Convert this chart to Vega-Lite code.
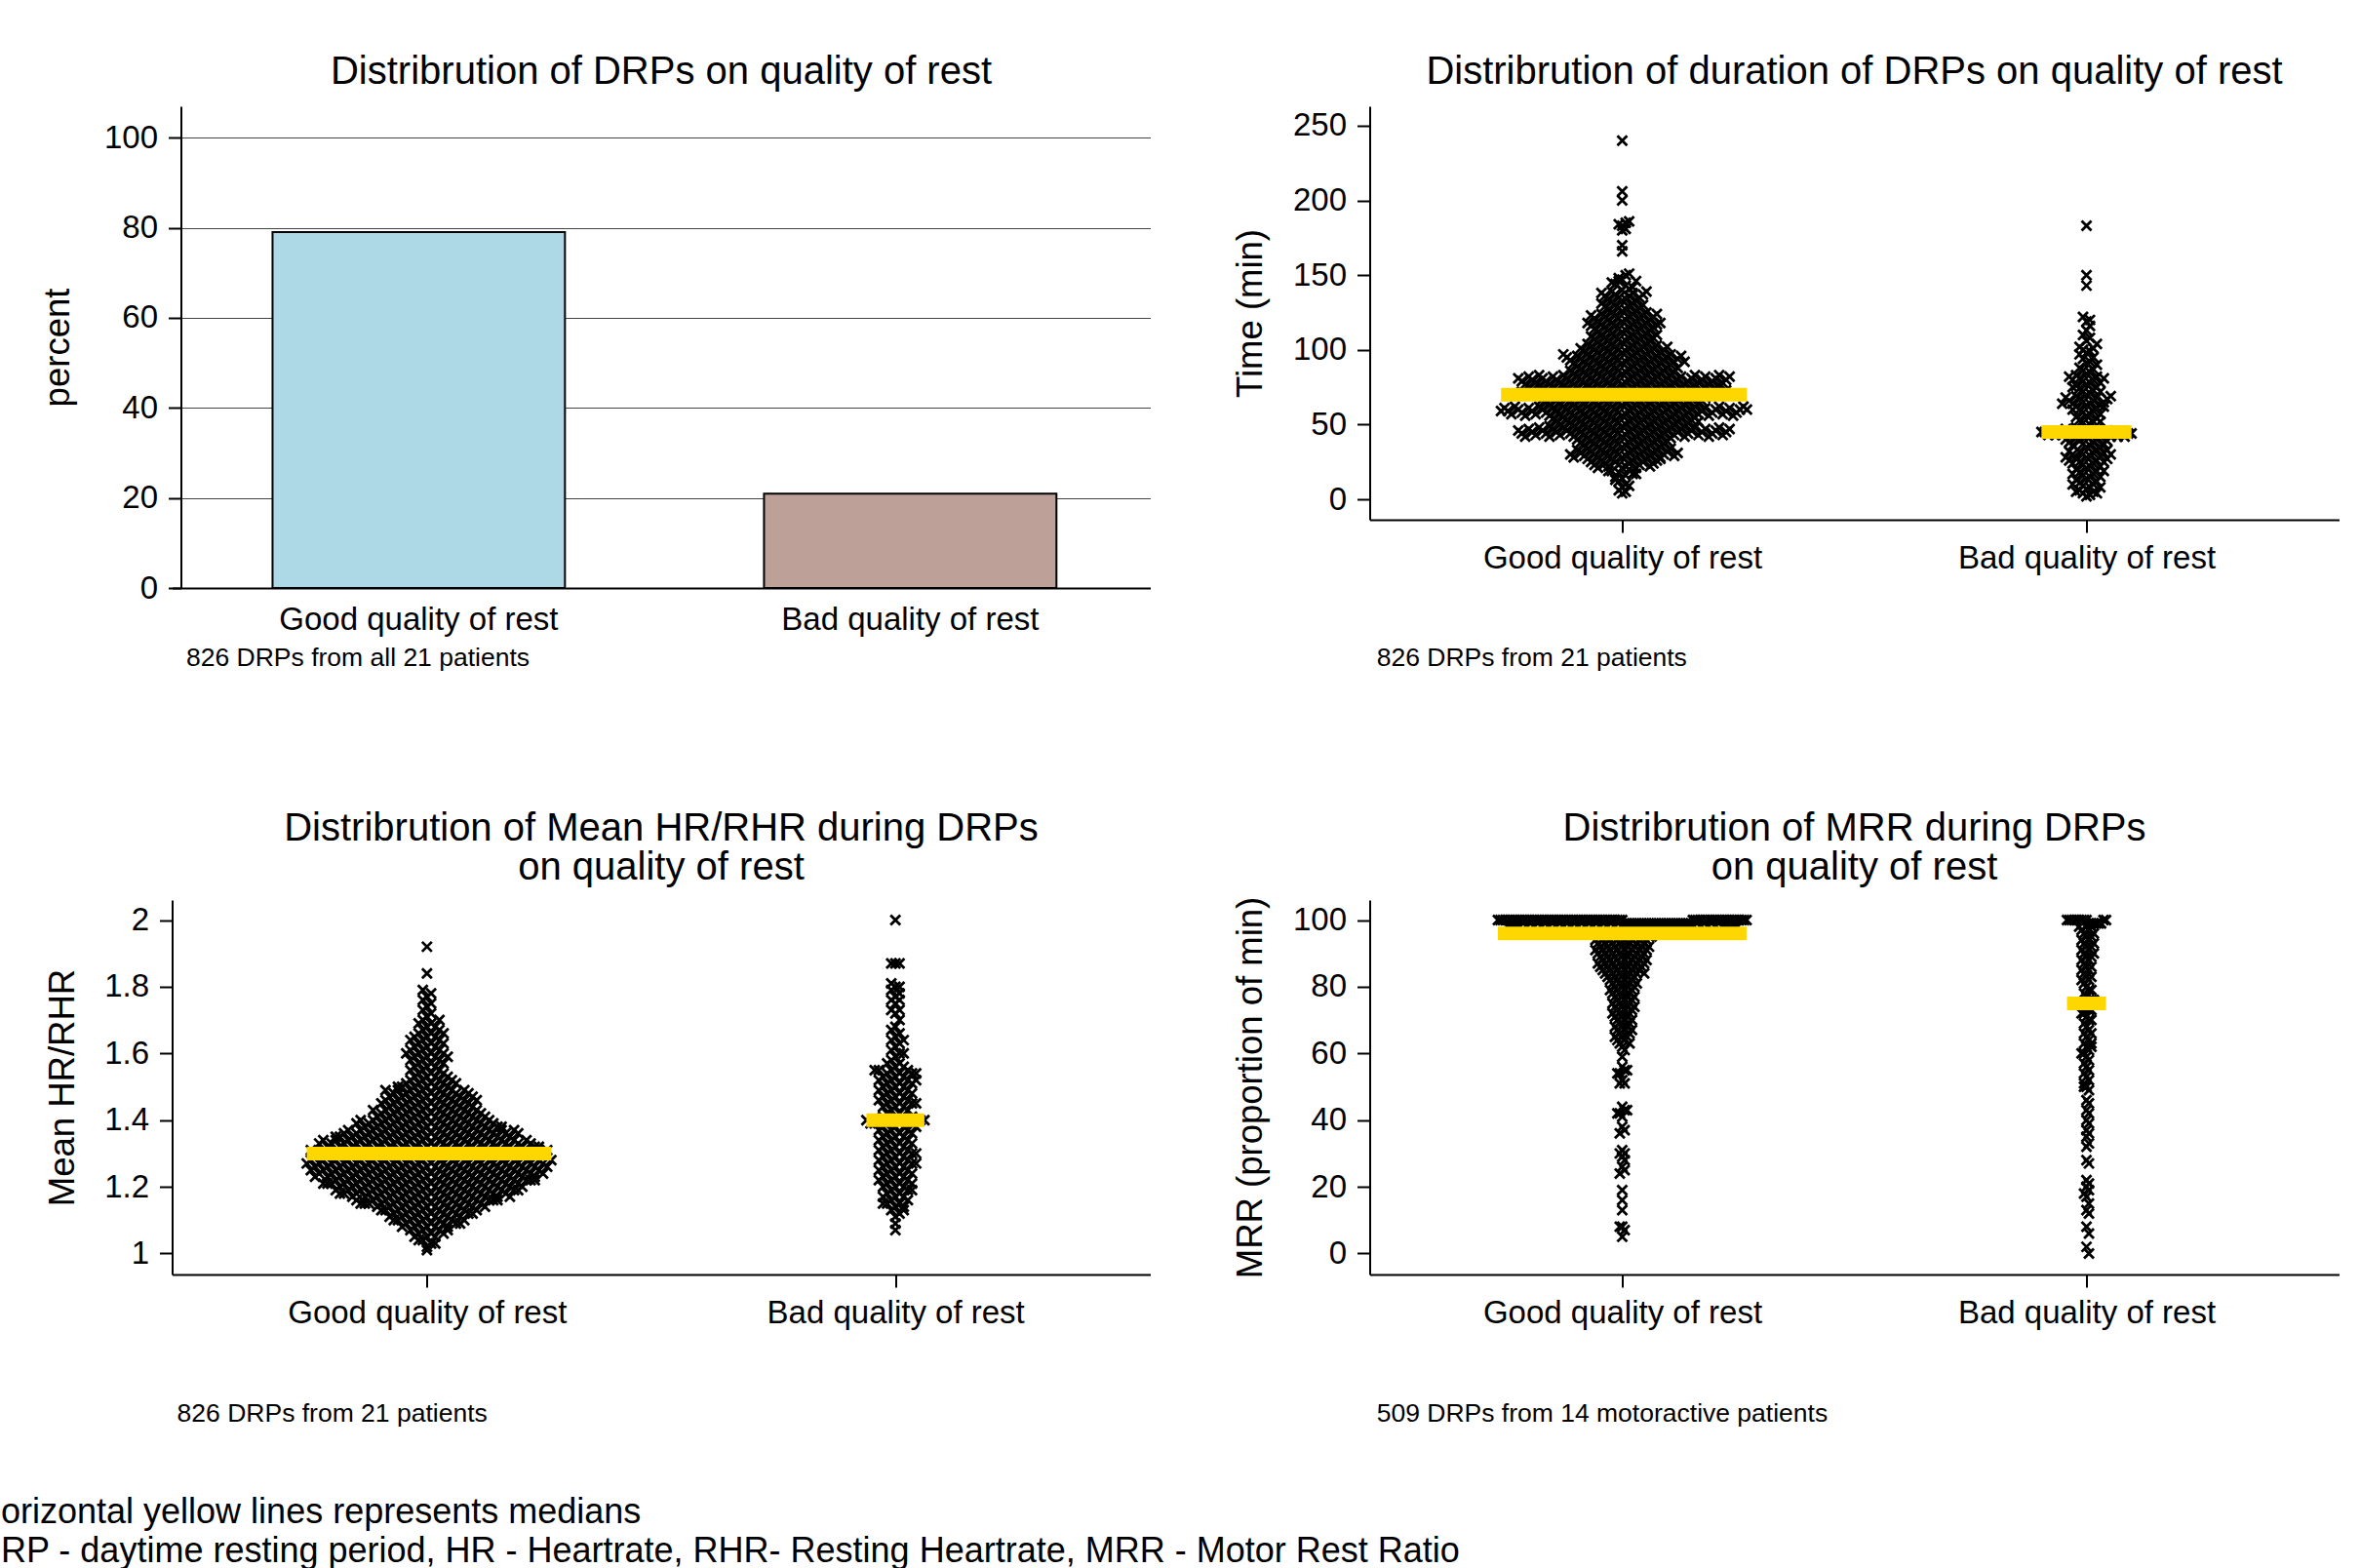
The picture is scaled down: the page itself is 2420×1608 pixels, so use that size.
{
"$schema":"https://vega.github.io/schema/vega-lite/v6.json",
"padding":{"left":0.5,"top":54,"right":22,"bottom":0},
"background":"white",
"config":{
"view":{"stroke":null},
"font":"Liberation Sans",
"axis":{"labelFont":"Liberation Sans","labelFontSize":33,"labelColor":"#000","labelLimit":0,"labelFlush":false,"labelOverlap":false,"titleFont":"Liberation Sans","titleFontSize":36.5,"titleFontWeight":"normal","titleColor":"#000","titleLimit":2000,"domainColor":"#000","domainWidth":2,"tickColor":"#000","tickWidth":2,"tickSize":13,"labelPadding":11,"grid":false},
"title":{"font":"Liberation Sans","fontSize":40,"fontWeight":"normal","color":"#000","baseline":"bottom","frame":"group","anchor":"middle","lineHeight":40}
},
"title":{"text":["orizontal yellow lines represents medians","RP - daytime resting period, HR - Heartrate, RHR- Resting Heartrate, MRR - Motor Rest Ratio"],"orient":"bottom","anchor":"start","frame":"group","align":"left","baseline":"alphabetic","fontSize":36,"lineHeight":40.3,"dx":-175.5,"offset":99.2,"fontWeight":"normal","color":"#000"},
"columns":2,
"bounds":"flush",
"spacing":{"row":320,"column":225},
"concat":[
{
"width":1003,"height":494,
"title":{"text":"Distribrution of DRPs on quality of rest","offset":14.6},
"data":{"values":[{"q":"Good quality of rest","p":79.06},{"q":"Bad quality of rest","p":20.94}]},
"mark":{"type":"bar","stroke":"#000","strokeWidth":2},
"encoding":{
"x":{"field":"q","type":"nominal","sort":["Good quality of rest","Bad quality of rest"],"scale":{"paddingInner":0.405,"paddingOuter":0.1976,"align":0.517},
"axis":{"title":"826 DRPs from all 21 patients","titleX":14,"titleY":79,"titleAlign":"left","titleBaseline":"alphabetic","titleAngle":0,"titleFontSize":26.5,"ticks":false,"tickSize":0,"labelAngle":0,"labelPadding":42,"labelBaseline":"alphabetic"}},
"y":{"field":"p","type":"quantitative","scale":{"domain":[0,107],"nice":false,"zero":false},
"axis":{"title":"percent","values":[0,20,40,60,80,100],"grid":true,"gridColor":"#444","gridWidth":1.2,"offset":-9,"titleX":-115,"titleY":247,"titleAngle":-90,"titleAlign":"center","titleBaseline":"alphabetic"}},
"fill":{"field":"q","type":"nominal","scale":{"domain":["Good quality of rest","Bad quality of rest"],"range":["#ADD8E6","#BDA098"]},"legend":null}
}
},
{
"width":994,"height":424,
"title":{"text":"Distribrution of duration of DRPs on quality of rest","offset":14.6},
"encoding":{
"x":{"field":"xp","type":"quantitative","scale":{"domain":[0.456,2.544],"nice":false,"zero":false},
"axis":{"values":[1,2],"labelExpr":"datum.value == 1 ? 'Good quality of rest' : 'Bad quality of rest'","labelPadding":36,"labelBaseline":"alphabetic","labelAlign":"center","title":"826 DRPs from 21 patients","titleX":6.7,"titleY":149,"titleAlign":"left","titleBaseline":"alphabetic","titleAngle":0,"titleFontSize":26.5}},
"y":{"field":"v","type":"quantitative","scale":{"domain":[-13.7,263],"nice":false,"zero":false},
"axis":{"title":"Time (min)","values":[0,50,100,150,200,250],"titleX":-111,"titleY":212,"titleAngle":-90,"titleAlign":"center","titleBaseline":"alphabetic"}}
},
"layer":[
{"data":{"name":"durGood"},"transform":[{"calculate":"floor(datum.v / 7)","as":"b"},{"window":[{"op":"row_number","as":"rk"}],"groupby":["b"]},{"calculate":"1 + (datum.rk % 2 == 0 ? 1 : -1) * floor(datum.rk / 2) * 0.00746","as":"xp"}],
"mark":{"type":"point","shape":"M-1,-1L1,1M-1,1L1,-1","filled":false,"color":"#000","strokeWidth":2.8,"size":100,"opacity":1}},
{"data":{"name":"durBad"},"transform":[{"calculate":"floor(datum.v / 7)","as":"b"},{"window":[{"op":"row_number","as":"rk"}],"groupby":["b"]},{"calculate":"2 + (datum.rk % 2 == 0 ? 1 : -1) * floor(datum.rk / 2) * 0.00746","as":"xp"}],
"mark":{"type":"point","shape":"M-1,-1L1,1M-1,1L1,-1","filled":false,"color":"#000","strokeWidth":2.8,"size":100,"opacity":1}},
{"data":{"name":"durGood"},"transform":[{"calculate":"floor(datum.v / 7)","as":"b"},{"window":[{"op":"row_number","as":"rk"}],"groupby":["b"]},{"calculate":"1 + (datum.rk % 2 == 0 ? 1 : -1) * floor(datum.rk / 2) * 0.00746","as":"xp"},{"aggregate":[{"op":"median","field":"v","as":"v"},{"op":"min","field":"xp","as":"xp"},{"op":"max","field":"xp","as":"xp2"}]}],
"mark":{"type":"rule","color":"#FFD700","strokeWidth":14,"strokeCap":"butt"},"encoding":{"x2":{"field":"xp2"}}},
{"data":{"name":"durBad"},"transform":[{"calculate":"floor(datum.v / 7)","as":"b"},{"window":[{"op":"row_number","as":"rk"}],"groupby":["b"]},{"calculate":"2 + (datum.rk % 2 == 0 ? 1 : -1) * floor(datum.rk / 2) * 0.00746","as":"xp"},{"aggregate":[{"op":"median","field":"v","as":"v"},{"op":"min","field":"xp","as":"xp"},{"op":"max","field":"xp","as":"xp2"}]}],
"mark":{"type":"rule","color":"#FFD700","strokeWidth":14,"strokeCap":"butt"},"encoding":{"x2":{"field":"xp2"}}}
]
},
{
"width":1003,"height":384,
"title":{"text":["Distribrution of Mean HR/RHR during DRPs","on quality of rest"],"offset":12.6},
"encoding":{
"x":{"field":"xp","type":"quantitative","scale":{"domain":[0.456,2.544],"nice":false,"zero":false},
"axis":{"values":[1,2],"labelExpr":"datum.value == 1 ? 'Good quality of rest' : 'Bad quality of rest'","labelPadding":36,"labelBaseline":"alphabetic","labelAlign":"center","title":"826 DRPs from 21 patients","titleX":4.6,"titleY":150,"titleAlign":"left","titleBaseline":"alphabetic","titleAngle":0,"titleFontSize":26.5}},
"y":{"field":"v","type":"quantitative","scale":{"domain":[0.937,2.06],"nice":false,"zero":false},
"axis":{"title":"Mean HR/RHR","values":[1,1.2,1.4,1.6,1.8,2],"format":".1~f","titleX":-101,"titleY":192,"titleAngle":-90,"titleAlign":"center","titleBaseline":"alphabetic"}}
},
"layer":[
{"data":{"name":"hrGood"},"transform":[{"calculate":"floor(round(datum.v * 100) / 3)","as":"b"},{"window":[{"op":"row_number","as":"rk"}],"groupby":["b"]},{"calculate":"1 + (datum.rk % 2 == 0 ? 1 : -1) * floor(datum.rk / 2) * 0.00885","as":"xp"}],
"mark":{"type":"point","shape":"M-1,-1L1,1M-1,1L1,-1","filled":false,"color":"#000","strokeWidth":2.8,"size":100,"opacity":1}},
{"data":{"name":"hrBad"},"transform":[{"calculate":"floor(round(datum.v * 100) / 3)","as":"b"},{"window":[{"op":"row_number","as":"rk"}],"groupby":["b"]},{"calculate":"2 + (datum.rk % 2 == 0 ? 1 : -1) * floor(datum.rk / 2) * 0.00885","as":"xp"}],
"mark":{"type":"point","shape":"M-1,-1L1,1M-1,1L1,-1","filled":false,"color":"#000","strokeWidth":2.8,"size":100,"opacity":1}},
{"data":{"name":"hrGood"},"transform":[{"calculate":"floor(round(datum.v * 100) / 3)","as":"b"},{"window":[{"op":"row_number","as":"rk"}],"groupby":["b"]},{"calculate":"1 + (datum.rk % 2 == 0 ? 1 : -1) * floor(datum.rk / 2) * 0.00885","as":"xp"},{"aggregate":[{"op":"median","field":"v","as":"v"},{"op":"min","field":"xp","as":"xp"},{"op":"max","field":"xp","as":"xp2"}]}],
"mark":{"type":"rule","color":"#FFD700","strokeWidth":14,"strokeCap":"butt"},"encoding":{"x2":{"field":"xp2"}}},
{"data":{"name":"hrBad"},"transform":[{"calculate":"floor(round(datum.v * 100) / 3)","as":"b"},{"window":[{"op":"row_number","as":"rk"}],"groupby":["b"]},{"calculate":"2 + (datum.rk % 2 == 0 ? 1 : -1) * floor(datum.rk / 2) * 0.00885","as":"xp"},{"aggregate":[{"op":"median","field":"v","as":"v"},{"op":"min","field":"xp","as":"xp"},{"op":"max","field":"xp","as":"xp2"}]}],
"mark":{"type":"rule","color":"#FFD700","strokeWidth":14,"strokeCap":"butt"},"encoding":{"x2":{"field":"xp2"}}}
]
},
{
"width":994,"height":384,
"title":{"text":["Distribrution of MRR during DRPs","on quality of rest"],"offset":9.6},
"encoding":{
"x":{"field":"xp","type":"quantitative","scale":{"domain":[0.456,2.544],"nice":false,"zero":false},
"axis":{"values":[1,2],"labelExpr":"datum.value == 1 ? 'Good quality of rest' : 'Bad quality of rest'","labelPadding":36,"labelBaseline":"alphabetic","labelAlign":"center","title":"509 DRPs from 14 motoractive patients","titleX":6.7,"titleY":150,"titleAlign":"left","titleBaseline":"alphabetic","titleAngle":0,"titleFontSize":26.5}},
"y":{"field":"v","type":"quantitative","scale":{"domain":[-6.3,106],"nice":false,"zero":false},
"axis":{"title":"MRR (proportion of min)","values":[0,20,40,60,80,100],"titleX":-111,"titleY":192,"titleAngle":-90,"titleAlign":"center","titleBaseline":"alphabetic"}}
},
"layer":[
{"data":{"name":"mrrGood"},"transform":[{"calculate":"floor(datum.v / 3)","as":"b"},{"window":[{"op":"row_number","as":"rk"}],"groupby":["b"]},{"calculate":"1 + (datum.rk % 2 == 0 ? 1 : -1) * floor(datum.rk / 2) * 0.00525","as":"xp"}],
"mark":{"type":"point","shape":"M-1,-1L1,1M-1,1L1,-1","filled":false,"color":"#000","strokeWidth":2.8,"size":100,"opacity":1}},
{"data":{"name":"mrrBad"},"transform":[{"calculate":"floor(datum.v / 3)","as":"b"},{"window":[{"op":"row_number","as":"rk"}],"groupby":["b"]},{"calculate":"2 + (datum.rk % 2 == 0 ? 1 : -1) * floor(datum.rk / 2) * 0.00525","as":"xp"}],
"mark":{"type":"point","shape":"M-1,-1L1,1M-1,1L1,-1","filled":false,"color":"#000","strokeWidth":2.8,"size":100,"opacity":1}},
{"data":{"name":"mrrGood"},"transform":[{"calculate":"floor(datum.v / 3)","as":"b"},{"window":[{"op":"row_number","as":"rk"}],"groupby":["b"]},{"calculate":"1 + (datum.rk % 2 == 0 ? 1 : -1) * floor(datum.rk / 2) * 0.00525","as":"xp"},{"aggregate":[{"op":"median","field":"v","as":"v"},{"op":"min","field":"xp","as":"xp"},{"op":"max","field":"xp","as":"xp2"}]}],
"mark":{"type":"rule","color":"#FFD700","strokeWidth":14,"strokeCap":"butt"},"encoding":{"x2":{"field":"xp2"}}},
{"data":{"name":"mrrBad"},"transform":[{"calculate":"floor(datum.v / 3)","as":"b"},{"window":[{"op":"row_number","as":"rk"}],"groupby":["b"]},{"calculate":"2 + (datum.rk % 2 == 0 ? 1 : -1) * floor(datum.rk / 2) * 0.00525","as":"xp"},{"aggregate":[{"op":"median","field":"v","as":"v"},{"op":"min","field":"xp","as":"xp"},{"op":"max","field":"xp","as":"xp2"}]}],
"mark":{"type":"rule","color":"#FFD700","strokeWidth":14,"strokeCap":"butt"},"encoding":{"x2":{"field":"xp2"}}}
]
}
],
"datasets":{
"durGood":[{"v":4},{"v":5},{"v":6},{"v":8},{"v":10},{"v":12},{"v":9},{"v":13},{"v":14},{"v":16},{"v":18},{"v":20},{"v":15},{"v":17},{"v":19},{"v":17},{"v":19},
{"v":21},{"v":22},{"v":23},{"v":24},{"v":25},{"v":26},{"v":27},{"v":21},{"v":22},{"v":23},{"v":24},{"v":25},{"v":26},{"v":27},{"v":21},{"v":22},{"v":23},{"v":24},{"v":25},{"v":26},{"v":27},{"v":27},
{"v":28},{"v":29},{"v":30},{"v":31},{"v":32},{"v":33},{"v":34},{"v":28},{"v":29},{"v":30},{"v":31},{"v":32},{"v":33},{"v":34},{"v":28},{"v":29},{"v":30},{"v":31},{"v":32},{"v":33},{"v":34},{"v":28},{"v":29},{"v":30},{"v":31},{"v":32},{"v":33},{"v":34},{"v":28},{"v":29},{"v":30},{"v":31},
{"v":35},{"v":36},{"v":37},{"v":38},{"v":39},{"v":40},{"v":41},{"v":35},{"v":36},{"v":37},{"v":38},{"v":39},{"v":40},{"v":41},{"v":35},{"v":36},{"v":37},{"v":38},{"v":39},{"v":40},{"v":41},{"v":35},{"v":36},{"v":37},{"v":38},{"v":39},{"v":40},{"v":41},
{"v":42},{"v":43},{"v":44},{"v":45},{"v":46},{"v":47},{"v":48},{"v":42},{"v":43},{"v":44},{"v":45},{"v":46},{"v":47},{"v":48},{"v":42},{"v":43},{"v":44},{"v":45},{"v":46},{"v":47},{"v":48},{"v":42},{"v":43},{"v":44},{"v":45},{"v":46},{"v":47},{"v":48},{"v":42},{"v":43},{"v":44},{"v":45},{"v":46},{"v":47},{"v":48},{"v":42},{"v":43},{"v":44},{"v":45},{"v":46},{"v":47},{"v":48},{"v":42},{"v":43},{"v":44},{"v":45},{"v":46},{"v":47},{"v":48},{"v":42},{"v":43},{"v":44},{"v":45},{"v":46},{"v":47},{"v":48},{"v":42},{"v":43},{"v":44},{"v":45},{"v":46},{"v":47},
{"v":49},{"v":50},{"v":51},{"v":52},{"v":53},{"v":54},{"v":55},{"v":49},{"v":50},{"v":51},{"v":52},{"v":53},{"v":54},{"v":55},{"v":49},{"v":50},{"v":51},{"v":52},{"v":53},{"v":54},{"v":55},{"v":49},{"v":50},{"v":51},{"v":52},{"v":53},{"v":54},{"v":55},{"v":49},{"v":50},{"v":51},{"v":52},{"v":53},{"v":54},{"v":55},{"v":49},{"v":50},{"v":51},{"v":52},{"v":53},{"v":54},{"v":55},{"v":49},{"v":52},
{"v":56},{"v":57},{"v":58},{"v":59},{"v":60},{"v":61},{"v":62},{"v":56},{"v":57},{"v":58},{"v":59},{"v":60},{"v":61},{"v":62},{"v":56},{"v":57},{"v":58},{"v":59},{"v":60},{"v":61},{"v":62},{"v":56},{"v":57},{"v":58},{"v":59},{"v":60},{"v":61},{"v":62},{"v":56},{"v":57},{"v":58},{"v":59},{"v":60},{"v":61},{"v":62},{"v":56},{"v":57},{"v":58},{"v":59},{"v":60},{"v":61},{"v":62},{"v":56},{"v":57},{"v":58},{"v":59},{"v":60},{"v":61},{"v":62},{"v":56},{"v":57},{"v":58},{"v":59},{"v":60},{"v":61},{"v":62},{"v":56},{"v":57},{"v":58},{"v":59},{"v":60},{"v":61},{"v":62},{"v":56},{"v":57},{"v":58},{"v":59},{"v":60},{"v":61},{"v":62},{"v":59},{"v":60},
{"v":63},{"v":64},{"v":65},{"v":66},{"v":67},{"v":68},{"v":69},{"v":63},{"v":64},{"v":65},{"v":66},{"v":67},{"v":68},{"v":69},{"v":63},{"v":64},{"v":65},{"v":66},{"v":67},{"v":68},{"v":69},{"v":63},{"v":64},{"v":65},{"v":66},{"v":67},{"v":68},{"v":69},{"v":63},{"v":64},{"v":65},{"v":66},{"v":67},{"v":68},{"v":69},{"v":63},{"v":64},{"v":65},{"v":66},{"v":67},{"v":68},{"v":69},{"v":63},{"v":64},{"v":65},{"v":66},{"v":67},{"v":68},
{"v":70},{"v":71},{"v":72},{"v":73},{"v":74},{"v":75},{"v":76},{"v":70},{"v":71},{"v":72},{"v":73},{"v":74},{"v":75},{"v":76},{"v":70},{"v":71},{"v":72},{"v":73},{"v":74},{"v":75},{"v":76},{"v":70},{"v":71},{"v":72},{"v":73},{"v":74},{"v":75},{"v":76},{"v":70},{"v":71},{"v":72},{"v":73},{"v":74},{"v":75},{"v":76},{"v":70},{"v":71},{"v":72},{"v":73},{"v":74},{"v":75},{"v":76},{"v":70},{"v":71},{"v":72},{"v":73},{"v":74},{"v":75},{"v":76},{"v":70},{"v":71},{"v":72},{"v":73},{"v":74},{"v":75},{"v":76},{"v":70},{"v":71},{"v":72},{"v":73},
{"v":77},{"v":78},{"v":79},{"v":80},{"v":81},{"v":82},{"v":83},{"v":77},{"v":78},{"v":79},{"v":80},{"v":81},{"v":82},{"v":83},{"v":77},{"v":78},{"v":79},{"v":80},{"v":81},{"v":82},{"v":83},{"v":77},{"v":78},{"v":79},{"v":80},{"v":81},{"v":82},{"v":83},{"v":77},{"v":78},{"v":79},{"v":80},{"v":81},{"v":82},{"v":83},{"v":77},{"v":78},{"v":79},{"v":80},{"v":81},{"v":82},{"v":83},{"v":77},{"v":78},{"v":79},{"v":80},{"v":81},{"v":82},{"v":83},{"v":77},{"v":78},{"v":79},{"v":80},{"v":81},{"v":82},{"v":83},{"v":77},{"v":78},{"v":79},{"v":80},{"v":81},{"v":82},
{"v":84},{"v":85},{"v":86},{"v":87},{"v":88},{"v":89},{"v":90},{"v":84},{"v":85},{"v":86},{"v":87},{"v":88},{"v":89},{"v":90},{"v":84},{"v":85},{"v":86},{"v":87},{"v":88},{"v":89},{"v":90},{"v":84},{"v":85},{"v":86},{"v":87},{"v":88},{"v":89},{"v":90},{"v":84},{"v":85},{"v":86},{"v":88},
{"v":91},{"v":92},{"v":93},{"v":94},{"v":95},{"v":96},{"v":97},{"v":91},{"v":92},{"v":93},{"v":94},{"v":95},{"v":96},{"v":97},{"v":91},{"v":92},{"v":93},{"v":94},{"v":95},{"v":96},{"v":97},{"v":91},{"v":92},{"v":93},{"v":94},{"v":95},{"v":96},{"v":97},{"v":91},{"v":92},{"v":93},{"v":94},{"v":95},{"v":96},{"v":97},{"v":92},
{"v":98},{"v":99},{"v":100},{"v":101},{"v":102},{"v":103},{"v":104},{"v":98},{"v":99},{"v":100},{"v":101},{"v":102},{"v":103},{"v":104},{"v":98},{"v":99},{"v":100},{"v":101},{"v":102},{"v":103},{"v":104},{"v":98},{"v":99},{"v":100},{"v":101},{"v":102},
{"v":105},{"v":106},{"v":107},{"v":108},{"v":109},{"v":110},{"v":111},{"v":105},{"v":106},{"v":107},{"v":108},{"v":109},{"v":110},{"v":111},{"v":105},{"v":106},{"v":107},{"v":108},{"v":109},{"v":110},
{"v":112},{"v":113},{"v":114},{"v":115},{"v":116},{"v":117},{"v":118},{"v":112},{"v":113},{"v":114},{"v":115},{"v":116},{"v":117},{"v":118},{"v":112},{"v":113},{"v":114},{"v":115},{"v":116},{"v":117},{"v":118},{"v":118},
{"v":119},{"v":120},{"v":121},{"v":122},{"v":123},{"v":124},{"v":125},{"v":119},{"v":120},{"v":121},{"v":122},{"v":123},{"v":124},{"v":125},{"v":119},{"v":120},{"v":121},{"v":122},{"v":123},{"v":124},
{"v":126},{"v":127},{"v":128},{"v":129},{"v":130},{"v":131},{"v":132},{"v":126},{"v":127},{"v":128},{"v":129},{"v":130},{"v":131},
{"v":133},{"v":134},{"v":135},{"v":136},{"v":137},{"v":138},{"v":139},{"v":133},{"v":134},{"v":135},{"v":136},{"v":137},{"v":138},{"v":139},
{"v":140},{"v":143},{"v":146},{"v":141},{"v":144},{"v":142},{"v":145},{"v":146},{"v":147},{"v":150},{"v":148},{"v":151},
{"v":166},{"v":170},{"v":180},{"v":181},{"v":183},{"v":185},{"v":184},{"v":186},{"v":200},{"v":206},{"v":240}],
"durBad":[{"v":2},{"v":3},{"v":4},{"v":5},{"v":6},{"v":4},{"v":5},{"v":7},{"v":8},{"v":9},{"v":10},{"v":11},{"v":12},{"v":13},{"v":8},{"v":10},
{"v":14},{"v":15},{"v":16},{"v":17},{"v":18},{"v":19},{"v":20},{"v":15},{"v":17},{"v":19},
{"v":21},{"v":22},{"v":23},{"v":24},{"v":25},{"v":26},{"v":27},{"v":22},{"v":24},{"v":25},{"v":26},{"v":27},
{"v":28},{"v":29},{"v":30},{"v":31},{"v":32},{"v":33},{"v":28},{"v":29},{"v":30},{"v":31},{"v":32},{"v":33},{"v":28},{"v":30},
{"v":35},{"v":36},{"v":37},{"v":38},{"v":39},{"v":40},{"v":41},{"v":35},{"v":36},{"v":37},{"v":38},{"v":39},{"v":40},
{"v":42},{"v":43},{"v":44},{"v":45},{"v":46},{"v":47},{"v":48},{"v":42},{"v":43},{"v":44},{"v":45},{"v":46},{"v":47},{"v":42},{"v":43},{"v":44},{"v":45},{"v":42},{"v":43},{"v":44},{"v":45},{"v":42},{"v":43},{"v":44},{"v":45},{"v":44},{"v":45},
{"v":49},{"v":50},{"v":51},{"v":52},{"v":53},{"v":54},{"v":55},{"v":52},
{"v":56},{"v":57},{"v":58},{"v":59},{"v":60},{"v":61},{"v":62},{"v":57},{"v":60},{"v":62},
{"v":63},{"v":64},{"v":65},{"v":66},{"v":67},{"v":68},{"v":69},{"v":63},{"v":64},{"v":65},{"v":66},{"v":67},{"v":68},{"v":69},{"v":64},
{"v":70},{"v":71},{"v":72},{"v":73},{"v":74},{"v":75},{"v":76},{"v":72},{"v":75},
{"v":77},{"v":78},{"v":79},{"v":80},{"v":81},{"v":82},{"v":83},{"v":78},{"v":80},{"v":81},{"v":82},
{"v":84},{"v":85},{"v":86},{"v":87},{"v":88},{"v":90},{"v":91},{"v":92},{"v":94},{"v":95},{"v":97},
{"v":98},{"v":99},{"v":100},{"v":101},{"v":102},{"v":104},{"v":106},{"v":108},{"v":110},{"v":113},{"v":116},{"v":119},{"v":120},{"v":122},{"v":143},{"v":150},{"v":183}],
"hrGood":[{"v":1.01},{"v":1.02},{"v":1.03},{"v":1.04},{"v":1.03},{"v":1.04},
{"v":1.05},{"v":1.06},{"v":1.07},{"v":1.05},{"v":1.06},{"v":1.07},{"v":1.05},{"v":1.06},{"v":1.07},{"v":1.07},
{"v":1.08},{"v":1.09},{"v":1.1},{"v":1.08},{"v":1.09},{"v":1.1},{"v":1.08},{"v":1.09},{"v":1.1},{"v":1.08},{"v":1.09},{"v":1.1},{"v":1.08},{"v":1.09},{"v":1.1},{"v":1.09},{"v":1.1},{"v":1.1},
{"v":1.11},{"v":1.12},{"v":1.13},{"v":1.11},{"v":1.12},{"v":1.13},{"v":1.11},{"v":1.12},{"v":1.13},{"v":1.11},{"v":1.12},{"v":1.13},{"v":1.11},{"v":1.12},{"v":1.13},{"v":1.11},{"v":1.12},{"v":1.13},{"v":1.11},{"v":1.12},{"v":1.13},{"v":1.12},{"v":1.13},{"v":1.13},
{"v":1.14},{"v":1.15},{"v":1.16},{"v":1.14},{"v":1.15},{"v":1.16},{"v":1.14},{"v":1.15},{"v":1.16},{"v":1.14},{"v":1.15},{"v":1.16},{"v":1.14},{"v":1.15},{"v":1.16},{"v":1.14},{"v":1.15},{"v":1.16},{"v":1.14},{"v":1.15},{"v":1.16},{"v":1.14},{"v":1.15},{"v":1.16},{"v":1.14},{"v":1.15},{"v":1.16},{"v":1.14},{"v":1.15},{"v":1.16},{"v":1.15},{"v":1.16},{"v":1.15},{"v":1.16},{"v":1.16},
{"v":1.17},{"v":1.18},{"v":1.19},{"v":1.17},{"v":1.18},{"v":1.19},{"v":1.17},{"v":1.18},{"v":1.19},{"v":1.17},{"v":1.18},{"v":1.19},{"v":1.17},{"v":1.18},{"v":1.19},{"v":1.17},{"v":1.18},{"v":1.19},{"v":1.17},{"v":1.18},{"v":1.19},{"v":1.17},{"v":1.18},{"v":1.19},{"v":1.17},{"v":1.18},{"v":1.19},{"v":1.17},{"v":1.18},{"v":1.19},{"v":1.17},{"v":1.18},{"v":1.19},{"v":1.17},{"v":1.18},{"v":1.19},{"v":1.17},{"v":1.18},{"v":1.19},{"v":1.17},{"v":1.18},{"v":1.19},{"v":1.18},{"v":1.19},{"v":1.19},
{"v":1.2},{"v":1.21},{"v":1.22},{"v":1.2},{"v":1.21},{"v":1.22},{"v":1.2},{"v":1.21},{"v":1.22},{"v":1.2},{"v":1.21},{"v":1.22},{"v":1.2},{"v":1.21},{"v":1.22},{"v":1.2},{"v":1.21},{"v":1.22},{"v":1.2},{"v":1.21},{"v":1.22},{"v":1.2},{"v":1.21},{"v":1.22},{"v":1.2},{"v":1.21},{"v":1.22},{"v":1.2},{"v":1.21},{"v":1.22},{"v":1.2},{"v":1.21},{"v":1.22},{"v":1.2},{"v":1.21},{"v":1.22},{"v":1.2},{"v":1.21},{"v":1.22},{"v":1.2},{"v":1.21},{"v":1.22},{"v":1.2},{"v":1.21},{"v":1.22},{"v":1.2},{"v":1.21},{"v":1.22},{"v":1.21},{"v":1.22},{"v":1.21},{"v":1.22},
{"v":1.23},{"v":1.24},{"v":1.25},{"v":1.23},{"v":1.24},{"v":1.25},{"v":1.23},{"v":1.24},{"v":1.25},{"v":1.23},{"v":1.24},{"v":1.25},{"v":1.23},{"v":1.24},{"v":1.25},{"v":1.23},{"v":1.24},{"v":1.25},{"v":1.23},{"v":1.24},{"v":1.25},{"v":1.23},{"v":1.24},{"v":1.25},{"v":1.23},{"v":1.24},{"v":1.25},{"v":1.23},{"v":1.24},{"v":1.25},{"v":1.23},{"v":1.24},{"v":1.25},{"v":1.23},{"v":1.24},{"v":1.25},{"v":1.23},{"v":1.24},{"v":1.25},{"v":1.23},{"v":1.24},{"v":1.25},{"v":1.23},{"v":1.24},{"v":1.25},{"v":1.23},{"v":1.24},{"v":1.25},{"v":1.23},{"v":1.24},{"v":1.25},{"v":1.23},{"v":1.24},{"v":1.25},{"v":1.23},{"v":1.24},{"v":1.25},
{"v":1.26},{"v":1.27},{"v":1.28},{"v":1.26},{"v":1.27},{"v":1.28},{"v":1.26},{"v":1.27},{"v":1.28},{"v":1.26},{"v":1.27},{"v":1.28},{"v":1.26},{"v":1.27},{"v":1.28},{"v":1.26},{"v":1.27},{"v":1.28},{"v":1.26},{"v":1.27},{"v":1.28},{"v":1.26},{"v":1.27},{"v":1.28},{"v":1.26},{"v":1.27},{"v":1.28},{"v":1.26},{"v":1.27},{"v":1.28},{"v":1.26},{"v":1.27},{"v":1.28},{"v":1.26},{"v":1.27},{"v":1.28},{"v":1.26},{"v":1.27},{"v":1.28},{"v":1.26},{"v":1.27},{"v":1.28},{"v":1.26},{"v":1.27},{"v":1.28},{"v":1.26},{"v":1.27},{"v":1.28},{"v":1.26},{"v":1.27},{"v":1.28},{"v":1.26},{"v":1.27},{"v":1.28},{"v":1.26},{"v":1.27},{"v":1.28},{"v":1.26},{"v":1.27},{"v":1.28},
{"v":1.29},{"v":1.3},{"v":1.31},{"v":1.29},{"v":1.3},{"v":1.31},{"v":1.29},{"v":1.3},{"v":1.31},{"v":1.29},{"v":1.3},{"v":1.31},{"v":1.29},{"v":1.3},{"v":1.31},{"v":1.29},{"v":1.3},{"v":1.31},{"v":1.29},{"v":1.3},{"v":1.31},{"v":1.29},{"v":1.3},{"v":1.31},{"v":1.29},{"v":1.3},{"v":1.31},{"v":1.29},{"v":1.3},{"v":1.31},{"v":1.29},{"v":1.3},{"v":1.31},{"v":1.29},{"v":1.3},{"v":1.31},{"v":1.29},{"v":1.3},{"v":1.31},{"v":1.29},{"v":1.3},{"v":1.31},{"v":1.29},{"v":1.3},{"v":1.31},{"v":1.29},{"v":1.3},{"v":1.31},{"v":1.29},{"v":1.3},{"v":1.31},{"v":1.29},{"v":1.3},{"v":1.31},{"v":1.29},{"v":1.3},{"v":1.31},{"v":1.31},
{"v":1.32},{"v":1.33},{"v":1.34},{"v":1.32},{"v":1.33},{"v":1.34},{"v":1.32},{"v":1.33},{"v":1.34},{"v":1.32},{"v":1.33},{"v":1.34},{"v":1.32},{"v":1.33},{"v":1.34},{"v":1.32},{"v":1.33},{"v":1.34},{"v":1.32},{"v":1.33},{"v":1.34},{"v":1.32},{"v":1.33},{"v":1.34},{"v":1.32},{"v":1.33},{"v":1.34},{"v":1.32},{"v":1.33},{"v":1.34},{"v":1.32},{"v":1.33},{"v":1.34},{"v":1.32},{"v":1.33},{"v":1.34},{"v":1.32},{"v":1.33},{"v":1.34},{"v":1.32},{"v":1.33},{"v":1.34},{"v":1.32},{"v":1.33},{"v":1.34},{"v":1.32},{"v":1.33},{"v":1.34},{"v":1.32},{"v":1.33},{"v":1.34},{"v":1.32},{"v":1.33},{"v":1.32},
{"v":1.35},{"v":1.36},{"v":1.37},{"v":1.35},{"v":1.36},{"v":1.37},{"v":1.35},{"v":1.36},{"v":1.37},{"v":1.35},{"v":1.36},{"v":1.37},{"v":1.35},{"v":1.36},{"v":1.37},{"v":1.35},{"v":1.36},{"v":1.37},{"v":1.35},{"v":1.36},{"v":1.37},{"v":1.35},{"v":1.36},{"v":1.37},{"v":1.35},{"v":1.36},{"v":1.37},{"v":1.35},{"v":1.36},{"v":1.37},{"v":1.35},{"v":1.36},{"v":1.37},{"v":1.35},{"v":1.36},{"v":1.37},{"v":1.35},{"v":1.36},{"v":1.37},{"v":1.35},{"v":1.36},{"v":1.37},{"v":1.35},{"v":1.36},{"v":1.35},
{"v":1.38},{"v":1.39},{"v":1.4},{"v":1.38},{"v":1.39},{"v":1.4},{"v":1.38},{"v":1.39},{"v":1.4},{"v":1.38},{"v":1.39},{"v":1.4},{"v":1.38},{"v":1.39},{"v":1.4},{"v":1.38},{"v":1.39},{"v":1.4},{"v":1.38},{"v":1.39},{"v":1.4},{"v":1.38},{"v":1.39},{"v":1.4},{"v":1.38},{"v":1.39},{"v":1.4},{"v":1.38},{"v":1.39},{"v":1.4},{"v":1.38},{"v":1.39},{"v":1.4},{"v":1.38},{"v":1.39},{"v":1.38},
{"v":1.41},{"v":1.42},{"v":1.43},{"v":1.41},{"v":1.42},{"v":1.43},{"v":1.41},{"v":1.42},{"v":1.43},{"v":1.41},{"v":1.42},{"v":1.43},{"v":1.41},{"v":1.42},{"v":1.43},{"v":1.41},{"v":1.42},{"v":1.43},{"v":1.41},{"v":1.42},{"v":1.43},{"v":1.41},{"v":1.42},{"v":1.43},{"v":1.41},{"v":1.42},{"v":1.43},{"v":1.41},
{"v":1.44},{"v":1.45},{"v":1.46},{"v":1.44},{"v":1.45},{"v":1.46},{"v":1.44},{"v":1.45},{"v":1.46},{"v":1.44},{"v":1.45},{"v":1.46},{"v":1.44},{"v":1.45},{"v":1.46},{"v":1.44},{"v":1.45},{"v":1.46},{"v":1.44},{"v":1.45},{"v":1.46},{"v":1.44},{"v":1.45},{"v":1.46},
{"v":1.47},{"v":1.48},{"v":1.49},{"v":1.47},{"v":1.48},{"v":1.49},{"v":1.47},{"v":1.48},{"v":1.49},{"v":1.47},{"v":1.48},{"v":1.49},{"v":1.47},{"v":1.48},{"v":1.49},{"v":1.47},{"v":1.48},{"v":1.49},{"v":1.47},{"v":1.48},{"v":1.49},{"v":1.47},
{"v":1.5},{"v":1.51},{"v":1.52},{"v":1.5},{"v":1.51},{"v":1.52},{"v":1.5},{"v":1.51},{"v":1.52},{"v":1.5},{"v":1.51},{"v":1.52},{"v":1.5},{"v":1.51},{"v":1.5},
{"v":1.53},{"v":1.54},{"v":1.55},{"v":1.53},{"v":1.54},{"v":1.55},{"v":1.53},{"v":1.54},{"v":1.55},{"v":1.53},
{"v":1.56},{"v":1.57},{"v":1.58},{"v":1.56},{"v":1.57},{"v":1.58},{"v":1.56},{"v":1.57},{"v":1.58},
{"v":1.59},{"v":1.6},{"v":1.61},{"v":1.59},{"v":1.6},{"v":1.61},{"v":1.59},{"v":1.6},{"v":1.61},{"v":1.59},{"v":1.6},
{"v":1.62},{"v":1.63},{"v":1.64},{"v":1.62},{"v":1.63},{"v":1.64},{"v":1.62},{"v":1.63},{"v":1.64},
{"v":1.65},{"v":1.66},{"v":1.67},{"v":1.65},{"v":1.66},{"v":1.67},{"v":1.65},{"v":1.66},
{"v":1.68},{"v":1.69},{"v":1.7},{"v":1.68},{"v":1.69},{"v":1.7},
{"v":1.71},{"v":1.72},{"v":1.73},{"v":1.74},{"v":1.75},{"v":1.76},{"v":1.77},{"v":1.78},{"v":1.79},{"v":1.84},{"v":1.92}],
"hrBad":[{"v":1.07},{"v":1.09},{"v":1.11},{"v":1.12},{"v":1.13},{"v":1.13},
{"v":1.14},{"v":1.15},{"v":1.16},{"v":1.14},{"v":1.15},{"v":1.16},{"v":1.15},
{"v":1.17},{"v":1.18},{"v":1.19},{"v":1.17},{"v":1.18},{"v":1.19},{"v":1.17},{"v":1.19},
{"v":1.2},{"v":1.21},{"v":1.22},{"v":1.2},{"v":1.21},{"v":1.22},{"v":1.2},{"v":1.21},{"v":1.22},
{"v":1.23},{"v":1.24},{"v":1.25},{"v":1.23},{"v":1.24},{"v":1.25},{"v":1.23},{"v":1.24},{"v":1.25},
{"v":1.26},{"v":1.27},{"v":1.28},{"v":1.26},{"v":1.27},{"v":1.28},{"v":1.26},{"v":1.27},{"v":1.28},{"v":1.27},
{"v":1.29},{"v":1.3},{"v":1.31},{"v":1.29},{"v":1.3},{"v":1.31},{"v":1.29},{"v":1.3},{"v":1.31},{"v":1.3},
{"v":1.32},{"v":1.33},{"v":1.34},{"v":1.32},{"v":1.33},{"v":1.34},{"v":1.32},{"v":1.33},{"v":1.34},
{"v":1.35},{"v":1.36},{"v":1.37},{"v":1.35},{"v":1.36},{"v":1.37},{"v":1.35},{"v":1.36},{"v":1.37},
{"v":1.38},{"v":1.39},{"v":1.4},{"v":1.38},{"v":1.39},{"v":1.4},{"v":1.38},{"v":1.39},{"v":1.4},{"v":1.38},{"v":1.39},{"v":1.4},{"v":1.39},{"v":1.4},{"v":1.4},
{"v":1.41},{"v":1.42},{"v":1.43},{"v":1.41},{"v":1.42},{"v":1.43},{"v":1.41},{"v":1.41},
{"v":1.44},{"v":1.45},{"v":1.46},{"v":1.44},{"v":1.45},{"v":1.46},{"v":1.44},{"v":1.45},{"v":1.46},{"v":1.45},
{"v":1.47},{"v":1.48},{"v":1.49},{"v":1.47},{"v":1.48},{"v":1.49},{"v":1.47},{"v":1.48},{"v":1.49},
{"v":1.5},{"v":1.51},{"v":1.52},{"v":1.5},{"v":1.51},{"v":1.52},{"v":1.5},{"v":1.51},{"v":1.52},{"v":1.52},
{"v":1.53},{"v":1.54},{"v":1.55},{"v":1.53},{"v":1.54},{"v":1.55},{"v":1.53},{"v":1.54},{"v":1.55},{"v":1.54},{"v":1.55},
{"v":1.56},{"v":1.57},{"v":1.58},{"v":1.56},{"v":1.57},{"v":1.59},{"v":1.6},{"v":1.61},{"v":1.6},
{"v":1.62},{"v":1.63},{"v":1.64},{"v":1.64},{"v":1.65},{"v":1.66},{"v":1.67},{"v":1.68},{"v":1.7},
{"v":1.72},{"v":1.73},{"v":1.73},{"v":1.75},{"v":1.76},{"v":1.76},{"v":1.77},{"v":1.78},{"v":1.79},{"v":1.8},{"v":1.8},{"v":1.81},{"v":1.87},{"v":1.87},{"v":1.87},{"v":2}],
"mrrGood":[{"v":100},{"v":99},{"v":100},{"v":99},{"v":100},{"v":99},{"v":100},{"v":99},{"v":100},{"v":99},{"v":100},{"v":99},{"v":100},{"v":99},{"v":100},{"v":99},{"v":100},{"v":99},{"v":100},{"v":99},{"v":100},{"v":99},{"v":100},{"v":99},{"v":100},{"v":99},{"v":100},{"v":99},{"v":100},{"v":99},{"v":100},{"v":99},{"v":100},{"v":99},{"v":100},{"v":99},{"v":100},{"v":99},{"v":100},{"v":99},{"v":100},{"v":99},{"v":100},{"v":99},{"v":100},{"v":99},{"v":100},{"v":99},{"v":100},{"v":99},{"v":100},{"v":99},{"v":100},{"v":99},{"v":100},{"v":99},
{"v":100},{"v":100},{"v":100},{"v":100},{"v":100},{"v":100},{"v":100},{"v":100},{"v":100},{"v":100},{"v":100},{"v":100},{"v":100},{"v":100},{"v":100},{"v":100},{"v":100},{"v":100},{"v":100},{"v":100},{"v":100},{"v":100},{"v":100},{"v":100},{"v":100},{"v":100},{"v":100},{"v":100},{"v":100},{"v":100},{"v":100},{"v":100},{"v":100},{"v":100},{"v":100},{"v":100},{"v":100},{"v":100},{"v":100},{"v":100},{"v":100},{"v":100},{"v":100},{"v":100},{"v":100},{"v":100},{"v":100},
{"v":98},{"v":97},{"v":96},{"v":98},{"v":97},{"v":96},{"v":98},{"v":97},{"v":96},{"v":98},{"v":97},{"v":96},{"v":98},{"v":97},{"v":96},{"v":98},{"v":97},{"v":96},{"v":98},{"v":97},{"v":96},{"v":98},{"v":97},{"v":96},{"v":98},{"v":97},{"v":96},{"v":98},{"v":97},{"v":96},{"v":98},{"v":97},{"v":96},{"v":98},{"v":97},{"v":96},{"v":98},{"v":97},{"v":96},{"v":98},{"v":97},{"v":96},{"v":98},{"v":97},{"v":96},{"v":98},{"v":97},{"v":96},{"v":98},{"v":97},{"v":96},{"v":98},{"v":97},{"v":96},{"v":98},{"v":97},{"v":96},{"v":98},{"v":97},{"v":96},{"v":98},{"v":97},{"v":96},{"v":98},{"v":97},{"v":96},{"v":98},{"v":97},{"v":96},{"v":98},{"v":97},{"v":96},{"v":98},{"v":97},{"v":96},{"v":98},{"v":97},{"v":96},{"v":98},{"v":97},{"v":96},{"v":98},{"v":97},{"v":96},{"v":98},{"v":97},{"v":98},{"v":97},{"v":98},{"v":97},{"v":98},{"v":97},{"v":98},{"v":98},{"v":98},
{"v":95},{"v":94},{"v":93},{"v":95},{"v":94},{"v":93},{"v":95},{"v":94},{"v":93},{"v":95},{"v":94},{"v":93},{"v":95},{"v":94},{"v":93},{"v":95},{"v":94},{"v":93},{"v":95},{"v":94},{"v":93},{"v":95},{"v":94},{"v":95},
{"v":92},{"v":91},{"v":90},{"v":92},{"v":91},{"v":90},{"v":92},{"v":91},{"v":90},{"v":92},{"v":91},{"v":90},{"v":92},{"v":91},{"v":90},{"v":92},{"v":91},{"v":90},{"v":92},{"v":91},{"v":90},{"v":92},{"v":91},
{"v":89},{"v":88},{"v":87},{"v":89},{"v":88},{"v":87},{"v":89},{"v":88},{"v":87},{"v":89},{"v":88},{"v":87},{"v":89},{"v":88},{"v":87},{"v":89},{"v":88},{"v":87},{"v":89},{"v":88},{"v":87},
{"v":86},{"v":85},{"v":84},{"v":86},{"v":85},{"v":84},{"v":86},{"v":85},{"v":84},{"v":86},{"v":85},{"v":84},{"v":86},{"v":85},{"v":84},{"v":86},{"v":85},{"v":84},{"v":86},
{"v":83},{"v":82},{"v":81},{"v":83},{"v":82},{"v":81},{"v":83},{"v":82},{"v":81},{"v":83},{"v":82},{"v":81},{"v":83},
{"v":80},{"v":79},{"v":78},{"v":80},{"v":79},{"v":78},{"v":80},{"v":79},{"v":78},{"v":80},{"v":79},
{"v":77},{"v":76},{"v":75},{"v":77},{"v":76},{"v":75},{"v":77},{"v":76},{"v":75},{"v":77},
{"v":74},{"v":73},{"v":72},{"v":74},{"v":73},{"v":72},{"v":74},{"v":73},{"v":72},{"v":74},
{"v":71},{"v":70},{"v":69},{"v":71},{"v":70},{"v":69},{"v":71},{"v":70},
{"v":68},{"v":67},{"v":66},{"v":68},{"v":67},{"v":66},{"v":68},{"v":67},
{"v":65},{"v":64},{"v":63},{"v":65},{"v":64},{"v":63},{"v":65},
{"v":62},{"v":61},{"v":59},{"v":56},{"v":55},{"v":54},{"v":55},{"v":54},{"v":52},{"v":51},{"v":51},
{"v":44},{"v":43},{"v":42},{"v":43},{"v":42},{"v":41},{"v":38},{"v":37},{"v":36},{"v":31},{"v":30},{"v":30},{"v":29},{"v":28},{"v":26},{"v":25},{"v":24},
{"v":19},{"v":16},{"v":13},{"v":8},{"v":7},{"v":8},{"v":5}],
"mrrBad":[{"v":100},{"v":99},{"v":100},{"v":99},{"v":100},{"v":99},{"v":100},{"v":99},{"v":100},{"v":99},{"v":100},{"v":99},{"v":100},{"v":100},{"v":100},{"v":100},{"v":100},
{"v":98},{"v":97},{"v":96},{"v":98},{"v":97},{"v":96},{"v":98},
{"v":95},{"v":94},{"v":93},{"v":95},{"v":94},{"v":93},
{"v":92},{"v":91},{"v":90},{"v":92},{"v":91},{"v":90},
{"v":89},{"v":88},{"v":87},{"v":89},{"v":88},
{"v":86},{"v":85},{"v":84},{"v":86},{"v":85},
{"v":83},{"v":82},{"v":81},{"v":83},{"v":82},
{"v":80},{"v":79},{"v":78},{"v":79},
{"v":77},{"v":76},{"v":75},{"v":76},{"v":75},{"v":76},{"v":75},
{"v":74},{"v":73},{"v":72},{"v":73},{"v":72},
{"v":71},{"v":70},{"v":69},{"v":70},
{"v":68},{"v":67},{"v":66},{"v":66},
{"v":65},{"v":64},{"v":63},{"v":63},
{"v":62},{"v":61},{"v":60},{"v":62},{"v":60},
{"v":59},{"v":58},{"v":57},{"v":56},{"v":55},{"v":54},{"v":53},{"v":52},{"v":51},{"v":50},{"v":49},{"v":50},
{"v":46},{"v":45},{"v":43},{"v":42},{"v":40},{"v":39},{"v":37},{"v":36},{"v":35},{"v":33},{"v":32},{"v":28},{"v":27},
{"v":22},{"v":21},{"v":20},{"v":19},{"v":18},{"v":17},{"v":15},{"v":13},{"v":12},{"v":8},{"v":6},{"v":2},{"v":0}]
}
}
